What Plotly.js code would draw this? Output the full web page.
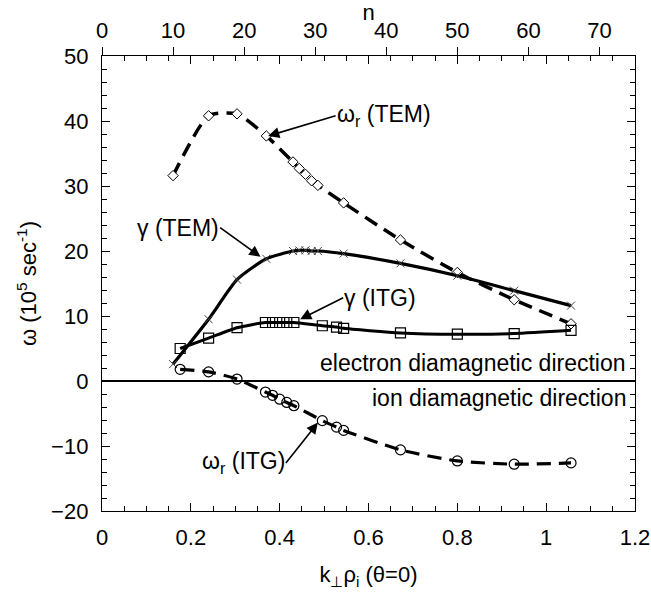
<!DOCTYPE html>
<html>
<head>
<meta charset="utf-8">
<script src="https://cdn.plot.ly/plotly-3.0.1.min.js"></script>
<style>html,body{margin:0;padding:0;background:#fff;}#chart{width:651px;height:601px;}</style>
</head>
<body>
<div id="chart"></div>
<script>
// k_perp rho_i values of the TEM runs
var kTEM = [0.16, 0.24, 0.304, 0.37, 0.43, 0.444, 0.458, 0.472, 0.486, 0.544, 0.672, 0.8, 0.928, 1.056];
// real frequency of TEM (10^5 s^-1)
var omegaTEM = [31.6, 40.8, 41.1, 37.7, 33.7, 32.7, 31.8, 30.8, 30.1, 27.4, 21.7, 16.7, 12.5, 8.8];
// growth rate of TEM
var gammaTEM = [2.6, 9.5, 15.6, 18.8, 20.0, 20.1, 20.1, 20.0, 20.0, 19.6, 18.1, 16.2, 13.9, 11.6];
// k_perp rho_i values of the ITG runs
var kITG = [0.176, 0.24, 0.304, 0.368, 0.384, 0.4, 0.416, 0.432, 0.496, 0.528, 0.544, 0.672, 0.8, 0.928, 1.056];
// growth rate of ITG
var gammaITG = [5.0, 6.6, 8.2, 9.0, 9.0, 9.0, 9.0, 9.0, 8.5, 8.3, 8.1, 7.4, 7.2, 7.3, 7.8];
// real frequency of ITG
var omegaITG = [1.8, 1.4, 0.3, -1.7, -2.2, -2.8, -3.3, -3.8, -6.1, -7.1, -7.6, -10.6, -12.3, -12.8, -12.6];
// axes
var xTicks = [0, 0.2, 0.4, 0.6, 0.8, 1, 1.2];
var xTickText = ['0', '0.2', '0.4', '0.6', '0.8', '1', '1.2'];
var yTicks = [-20, -10, 0, 10, 20, 30, 40, 50];
var nTicks = [0, 10, 20, 30, 40, 50, 60, 70];

var FONT = 'Liberation Sans, Arial, Helvetica, sans-serif';
var SM = 0.6;

var traces = [
  {x: kTEM, y: omegaTEM, mode: 'lines+markers', line: {color: '#000', width: 3.5, dash: '14px,8px', shape: 'spline', smoothing: SM},
   marker: {symbol: 'diamond', size: 8, color: '#fff', line: {color: '#000', width: 1}}, showlegend: false, hoverinfo: 'skip'},
  {x: kTEM, y: gammaTEM, mode: 'lines+markers', line: {color: '#000', width: 3.2, shape: 'spline', smoothing: SM},
   marker: {symbol: 'x-thin-open', size: 8, color: '#444', line: {color: '#444', width: 1}}, showlegend: false, hoverinfo: 'skip'},
  {x: kITG, y: gammaITG, mode: 'lines+markers', line: {color: '#000', width: 3, shape: 'spline', smoothing: SM},
   marker: {symbol: 'square-open', size: 10, color: '#000', line: {color: '#000', width: 1.2}}, showlegend: false, hoverinfo: 'skip'},
  {x: kITG, y: omegaITG, mode: 'lines+markers', line: {color: '#000', width: 3.2, dash: '14px,8px', shape: 'spline', smoothing: SM},
   marker: {symbol: 'circle-open', size: 10, color: '#000', line: {color: '#000', width: 1.2}}, showlegend: false, hoverinfo: 'skip'},
  {x: [0], y: [0], xaxis: 'x2', mode: 'markers', marker: {opacity: 0}, showlegend: false, hoverinfo: 'skip'}
];

// labelled arrows: head (hx,hy), tail (tx,ty) where the text box is attached
function arrowLabel(t, hx, hy, tx, ty, xanchor) {
  return {x: hx, y: hy, ax: tx, ay: ty, xref: 'x', yref: 'y', axref: 'x', ayref: 'y', text: t,
    xanchor: xanchor, yanchor: 'middle', borderpad: 0,
    font: {family: FONT, size: 23, color: '#000'},
    showarrow: true, arrowhead: 2, arrowsize: 1.4, arrowwidth: 1.6, arrowcolor: '#000'};
}

var layout = {
  width: 651, height: 601,
  margin: {l: 102, r: 16, t: 56, b: 90, pad: 0},
  paper_bgcolor: '#fff', plot_bgcolor: '#fff',
  font: {family: FONT, size: 22, color: '#000'},
  showlegend: false,
  xaxis: {range: [0, 1.2], tickvals: xTicks, ticktext: xTickText, showgrid: false, zeroline: false,
    showline: true, linecolor: '#000', linewidth: 1.2, mirror: 'ticks', ticks: 'inside', ticklen: 8, tickwidth: 1, tickcolor: '#000',
    minor: {dtick: 0.05, ticks: 'inside', ticklen: 5, tickwidth: 1, tickcolor: '#000'},
    ticklabelstandoff: 6, tickfont: {family: FONT, size: 22},
    title: {text: 'k<sub>⊥</sub>ρ<sub>i</sub> (θ=0)', font: {family: FONT, size: 22}, standoff: 18}},
  xaxis2: {overlaying: 'x', side: 'top', range: [0, 75], tickvals: nTicks, showgrid: false, zeroline: false,
    showline: false, ticks: 'outside', ticklen: 8, tickwidth: 1, tickcolor: '#000',
    tickfont: {family: FONT, size: 22}, title: {text: 'n', font: {family: FONT, size: 22}, standoff: 2}},
  yaxis: {range: [-20, 50], tickvals: yTicks, showgrid: false, zeroline: true, zerolinecolor: '#000', zerolinewidth: 1.5,
    showline: true, linecolor: '#000', linewidth: 1.2, mirror: 'ticks', ticks: 'inside', ticklen: 8, tickwidth: 1, tickcolor: '#000',
    minor: {dtick: 2, ticks: 'inside', ticklen: 5, tickwidth: 1, tickcolor: '#000'},
    ticklabelstandoff: 8, tickfont: {family: FONT, size: 22},
    title: {text: 'ω (10<sup>5</sup> sec<sup>-1</sup>)', font: {family: FONT, size: 22}, standoff: 8}},
  annotations: [
    arrowLabel('ω<sub>r</sub> (TEM)', 0.374, 37.7, 0.526, 40.8, 'left'),
    arrowLabel('γ (TEM)', 0.357, 19.1, 0.266, 23.6, 'right'),
    arrowLabel('γ (ITG)', 0.446, 9.5, 0.543, 12.8, 'left'),
    arrowLabel('ω<sub>r</sub> (ITG)', 0.486, -6.4, 0.414, -12.6, 'right'),
    {x: 1.185, y: 2.8, xref: 'x', yref: 'y', text: 'electron diamagnetic direction', showarrow: false,
      xanchor: 'right', yanchor: 'middle', font: {family: FONT, size: 23, color: '#000'}},
    {x: 1.185, y: -2.6, xref: 'x', yref: 'y', text: 'ion diamagnetic direction', showarrow: false,
      xanchor: 'right', yanchor: 'middle', font: {family: FONT, size: 23, color: '#000'}}
  ]
};

Plotly.newPlot('chart', traces, layout, {staticPlot: true, displayModeBar: false});
</script>
</body>
</html>
